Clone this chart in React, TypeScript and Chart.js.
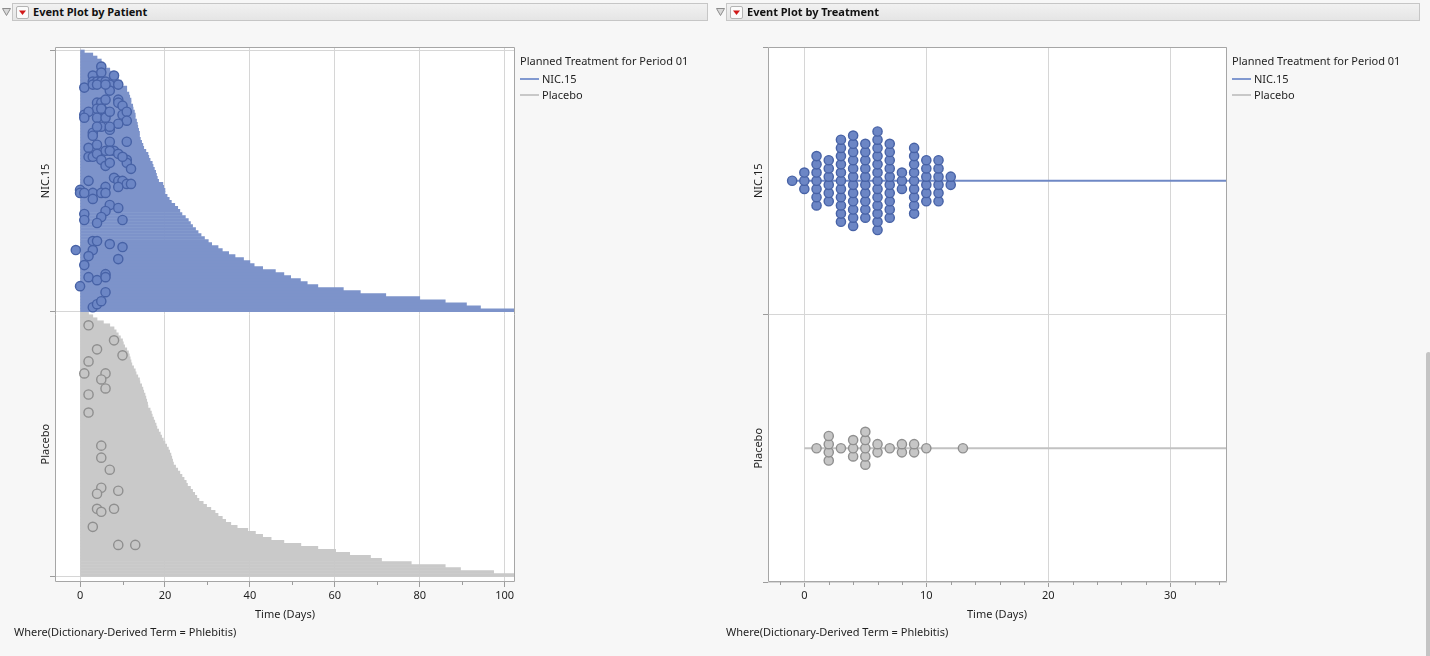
import React, { useEffect, useRef } from 'react';
import { Chart, registerables } from 'chart.js';

Chart.register(...registerables);

const FONT = "'Noto Sans', 'Segoe UI', Arial, sans-serif";
const TEXT = '#1f1f1f';

// ---------------- data ----------------
const treatments = ['NIC.15', 'Placebo'];
const legendTitle = 'Planned Treatment for Period 01';
const xTitle = 'Time (Days)';
const whereNote = 'Where(Dictionary-Derived Term = Phlebitis)';
const panelTitles = ['Event Plot by Patient', 'Event Plot by Treatment'];

// end of follow-up (days) per patient row, top row first
const nicEndDays = [
  1, 3, 4, 5, 5.5, 6, 7, 8, 8.5, 9, 9.7, 10, 11, 11, 11.5, 11.7, 12, 12, 12.4, 12.5,
  12.8, 13, 13, 13.3, 13.5, 13.6, 13.8, 14, 14, 14.2, 14.5, 14.8, 15, 15.5, 16, 16.2, 16.5, 17, 17.2, 17.5,
  17.8, 18, 18.2, 18.5, 19.5, 19.7, 20, 20, 20.5, 21, 21.5, 22.3, 23, 23.5, 24, 24.8, 25.5, 26, 26.5, 27.2,
  27.8, 28.5, 29.3, 30.2, 31, 32.5, 33.5, 35, 36.5, 38.5, 40, 41, 43, 46, 48, 49.6, 51.9, 53.5, 56, 62,
  66, 72, 80, 86, 91, 94.3, 102.5,
];
const placeboEndDays = [
  2, 3, 4, 5.5, 7, 8, 8.5, 9, 9.5, 10, 10.2, 10.5, 11, 11.4, 11.6, 11.8, 12, 12.2, 12.6, 13,
  13.2, 13.6, 14, 14.1, 14.5, 14.8, 15, 15.3, 15.5, 15.7, 15.9, 16, 16.5, 16.8, 17, 17.3, 17.6, 17.9, 18.1, 18.5,
  18.9, 19.2, 19.6, 20, 20.4, 20.8, 21.1, 21.4, 21.6, 21.8, 22, 22.5, 23, 23.5, 24, 24.5, 25, 25.3, 26, 26.5,
  27, 27.5, 28, 29, 29.8, 30.8, 31.8, 32.5, 33.5, 34.3, 35.5, 37, 39.5, 41.3, 43, 45, 48, 52, 56, 60.2,
  63.5, 68.4, 71, 78, 86, 89.6, 97.4, 102.5,
];
// events: [day, patient row]
const nicEvents: [number, number][] = [
  [5, 5], [3, 8], [5, 7], [8, 8], [1, 12], [3, 10], [4, 10], [5, 10], [6, 10], [7, 11],
  [9, 11], [7, 13], [9, 16], [4, 17], [5, 17], [6, 16], [9, 17], [10, 18], [4, 19], [6, 20],
  [1, 21], [2, 20], [4, 22], [6, 22], [10, 21], [11, 20], [11, 23], [9, 24], [5, 25], [7, 26],
  [7, 25], [3, 27], [3, 28], [7, 30], [11, 30], [2, 32], [4, 31], [6, 33], [8, 33], [2, 35],
  [3, 35], [4, 34], [5, 36], [6, 38], [7, 37], [11, 36], [11, 37], [12, 39], [2, 43], [8, 42],
  [9, 43], [10, 43], [11, 44], [12, 44], [9, 45], [6, 45], [0, 46], [0, 47], [3, 47], [5, 47],
  [6, 47], [1, 47], [3, 49], [7, 51], [9, 52], [6, 53], [1, 54], [1, 56], [5, 55], [4, 57],
  [10, 56], [3, 63], [4, 63], [3, 66], [7, 64], [10, 65], [-1, 66], [2, 68], [9, 69], [1, 71],
  [2, 75], [4, 76], [6, 74], [6, 75], [0, 78], [6, 80], [3, 85], [4, 84], [5, 83],
  [1, 22], [3, 11], [4, 11], [4, 25], [5, 19], [6, 11], [7, 20], [7, 33], [9, 34], [10, 35],
];
const placeboEvents: [number, number][] = [
  [2, 4], [8, 9], [4, 12], [10, 14], [2, 16], [1, 20], [6, 20], [5, 22], [6, 25], [2, 27],
  [2, 33], [5, 44], [5, 48], [7, 52], [5, 58], [4, 60], [9, 59], [4, 65], [8, 65], [5, 66],
  [3, 71], [9, 77], [13, 77],
];

const patientXTicks = [0, 20, 40, 60, 80, 100];
const patientXMinorTicks = [10, 30, 50, 70, 90];
const patientXRange = [-5.9, 102.43];
const treatmentXTicks = [0, 10, 20, 30];
const treatmentXMinorTicks = [-2, 2, 4, 6, 8, 12, 14, 16, 18, 22, 24, 26, 28, 32, 34];
const treatmentXRange = [-2.98, 34.65];

// ---------------- styles ----------------
const COLORS = {
  nic: { bar: '#7d93ca', fill: '#6c86c5', border: '#4762a6', line: '#6f88c5', legend: '#8199d0' },
  pbo: { bar: '#c9c9c9', fill: '#c6c6c6', border: '#8f8f8f', line: '#c2c2c2', legend: '#c8c8c8' },
};
const GRID = '#d6d6d6';
const TICK = '#9c9c9c';
const POINT_R = 4.6;
const SWARM_STEP = 0.0307; // vertical spacing of stacked points (y units)

function makeDecor(minor: number[], cats: { value: number; text: string }[]) {
  return {
    id: 'decor',
    beforeDraw(chart: any) {
      const { ctx, chartArea: a } = chart;
      ctx.save();
      ctx.fillStyle = '#ffffff';
      ctx.fillRect(a.left, a.top, a.right - a.left, a.bottom - a.top);
      ctx.restore();
    },
    afterDraw(chart: any) {
      const { ctx, chartArea: a, scales } = chart;
      ctx.save();
      const L = Math.round(a.left) + 0.5;
      const R = Math.round(a.right) - 0.5;
      const T = Math.round(a.top) + 0.5;
      const B = Math.round(a.bottom) - 0.5;
      ctx.strokeStyle = '#a6a6a6';
      ctx.lineWidth = 1;
      ctx.beginPath();
      ctx.rect(L, T, R - L, B - T);
      ctx.stroke();
      ctx.strokeStyle = TICK;
      ctx.beginPath();
      minor.forEach((v) => {
        const x = Math.round(scales.x.getPixelForValue(v)) + 0.5;
        ctx.moveTo(x, B);
        ctx.lineTo(x, B + 3.5);
      });
      ctx.stroke();
      ctx.fillStyle = TEXT;
      ctx.font = `11px ${FONT}`;
      ctx.textAlign = 'center';
      ctx.textBaseline = 'middle';
      cats.forEach((c) => {
        const y = scales.y.getPixelForValue(c.value);
        ctx.save();
        ctx.translate(a.left - 9, y);
        ctx.rotate(-Math.PI / 2);
        ctx.fillText(c.text, 0, 0);
        ctx.restore();
      });
      ctx.restore();
    },
  };
}

function xScale(range: number[], ticks: number[]) {
  return {
    type: 'linear',
    min: range[0],
    max: range[1],
    offset: false,
    afterBuildTicks: (s: any) => {
      s.ticks = ticks.map((v) => ({ value: v }));
    },
    afterFit: (s: any) => {
      s.height = 30;
    },
    grid: { color: GRID, lineWidth: 1, tickLength: 5, tickColor: TICK, offset: false },
    border: { display: false },
    ticks: { color: TEXT, font: { family: FONT, size: 11 }, padding: 2, maxRotation: 0, autoSkip: false },
  };
}

function yScale(min: number, max: number, ticks: number[]) {
  return {
    type: 'linear',
    min,
    max,
    offset: false,
    afterBuildTicks: (s: any) => {
      s.ticks = ticks.map((v) => ({ value: v }));
    },
    afterFit: (s: any) => {
      s.width = 10;
    },
    grid: { color: GRID, lineWidth: 1, tickLength: 5, tickColor: TICK, offset: false },
    border: { display: false },
    ticks: { display: false },
  };
}

const pointStyle = (c: { fill: string; border: string }) => ({
  pointRadius: POINT_R,
  pointBackgroundColor: c.fill,
  pointBorderColor: c.border,
  pointBorderWidth: 1.4,
  backgroundColor: c.fill,
  borderColor: c.border,
});

function PatientChart() {
  const ref = useRef<HTMLCanvasElement>(null);
  useEffect(() => {
    const nN = nicEndDays.length;
    const nP = placeboEndDays.length;
    const total = nN + nP;
    const nicY = (r: number) => total - r - 0.5;
    const pboY = (r: number) => nP - r - 0.5;
    const chart = new Chart(ref.current as HTMLCanvasElement, {
      type: 'scatter',
      data: {
        datasets: [
          {
            type: 'scatter',
            data: nicEvents.map(([d, r]) => ({ x: d, y: nicY(r) })),
            ...pointStyle(COLORS.nic),
            order: 0,
          },
          {
            type: 'scatter',
            data: placeboEvents.map(([d, r]) => ({ x: d, y: pboY(r) })),
            ...pointStyle(COLORS.pbo),
            order: 0,
          },
          {
            type: 'bar',
            indexAxis: 'y',
            data: nicEndDays.map((e, i) => ({ x: [0, e], y: nicY(i) })),
            backgroundColor: COLORS.nic.bar,
            borderWidth: 0,
            barPercentage: 1,
            categoryPercentage: 1,
            grouped: false,
            order: 2,
          },
          {
            type: 'bar',
            indexAxis: 'y',
            data: placeboEndDays.map((e, i) => ({ x: [0, e], y: pboY(i) })),
            backgroundColor: COLORS.pbo.bar,
            borderWidth: 0,
            barPercentage: 1,
            categoryPercentage: 1,
            grouped: false,
            order: 2,
          },
        ] as any,
      },
      options: {
        animation: false,
        responsive: false,
        events: [],
        layout: { padding: { left: 45, top: 47, right: 195, bottom: 44 } },
        plugins: { legend: { display: false }, tooltip: { enabled: false } },
        scales: {
          x: xScale(patientXRange, patientXTicks),
          y: yScale(-5.5 / 3.00857, total + 3 / 3.00857, [0, nP, total]),
        } as any,
      },
      plugins: [
        makeDecor(patientXMinorTicks, [
          { value: nP + nN / 2, text: treatments[0] },
          { value: nP / 2, text: treatments[1] },
        ]) as any,
      ],
    });
    return () => chart.destroy();
  }, []);
  return (
    <canvas
      ref={ref}
      width={710}
      height={656}
      style={{ position: 'absolute', left: 0, top: 0, width: 710, height: 656 }}
    />
  );
}

function swarm(days: number[], center: number) {
  const counts = new Map<number, number>();
  days.forEach((d) => counts.set(d, (counts.get(d) || 0) + 1));
  const pts: { x: number; y: number }[] = [];
  Array.from(counts.keys())
    .sort((a, b) => a - b)
    .forEach((d) => {
      const n = counts.get(d) as number;
      for (let k = 0; k < n; k++) pts.push({ x: d, y: center + (k - (n - 1) / 2) * SWARM_STEP });
    });
  return pts;
}

function TreatmentChart() {
  const ref = useRef<HTMLCanvasElement>(null);
  useEffect(() => {
    const nicDays = nicEvents.map((e) => e[0]);
    const pboDays = placeboEvents.map((e) => e[0]);
    const nicStart = Math.min(0, ...nicDays);
    const pboStart = Math.min(0, ...pboDays);
    const nicEnd = Math.max(...nicEndDays);
    const pboEnd = Math.max(...placeboEndDays);
    const chart = new Chart(ref.current as HTMLCanvasElement, {
      type: 'scatter',
      data: {
        datasets: [
          { type: 'scatter', data: swarm(nicDays, 1.5), ...pointStyle(COLORS.nic), order: 0 },
          { type: 'scatter', data: swarm(pboDays, 0.5), ...pointStyle(COLORS.pbo), order: 0 },
          {
            type: 'line',
            data: [
              { x: nicStart, y: 1.5 },
              { x: nicEnd, y: 1.5 },
            ],
            borderColor: COLORS.nic.line,
            borderWidth: 2,
            pointRadius: 0,
            order: 1,
          },
          {
            type: 'line',
            data: [
              { x: pboStart, y: 0.5 },
              { x: pboEnd, y: 0.5 },
            ],
            borderColor: COLORS.pbo.line,
            borderWidth: 2,
            pointRadius: 0,
            order: 1,
          },
        ] as any,
      },
      options: {
        animation: false,
        responsive: false,
        events: [],
        layout: { padding: { left: 48, top: 47, right: 203, bottom: 44 } },
        plugins: { legend: { display: false }, tooltip: { enabled: false } },
        scales: {
          x: xScale(treatmentXRange, treatmentXTicks),
          y: yScale(0, 2, [0, 1, 2]),
        } as any,
      },
      plugins: [
        makeDecor(treatmentXMinorTicks, [
          { value: 1.5, text: treatments[0] },
          { value: 0.5, text: treatments[1] },
        ]) as any,
      ],
    });
    return () => chart.destroy();
  }, []);
  return (
    <canvas
      ref={ref}
      width={720}
      height={656}
      style={{ position: 'absolute', left: 710, top: 0, width: 720, height: 656 }}
    />
  );
}

function Header({ x, w, title }: { x: number; w: number; title: string }) {
  return (
    <>
      <svg style={{ position: 'absolute', left: x - 10, top: 8 }} width={9} height={8}>
        <polygon points="0.5,0.5 8.5,0.5 4.5,7.5" fill="#d8d8d8" stroke="#8c8c8c" strokeWidth={1} />
      </svg>
      <div
        style={{
          position: 'absolute',
          left: x,
          top: 3,
          width: w,
          height: 18,
          boxSizing: 'border-box',
          border: '1px solid #c6c6c6',
          background: 'linear-gradient(#f1f1f1, #e5e5e5)',
        }}
      >
        <svg style={{ position: 'absolute', left: 3, top: 2 }} width={13} height={13}>
          <rect x={0.5} y={0.5} width={12} height={12} rx={1.5} fill="#fbfbfb" stroke="#b4b4b4" />
          <polygon points="3,4.5 10,4.5 6.5,9" fill="#d11a1a" />
        </svg>
        <span
          style={{
            position: 'absolute',
            left: 20,
            top: 0,
            lineHeight: '16px',
            fontWeight: 700,
            fontSize: 11,
            color: '#111',
            whiteSpace: 'nowrap',
          }}
        >
          {title}
        </span>
      </div>
    </>
  );
}

function Legend({ x }: { x: number }) {
  const items = [
    { text: treatments[0], color: COLORS.nic.legend },
    { text: treatments[1], color: COLORS.pbo.legend },
  ];
  return (
    <div style={{ position: 'absolute', left: x, top: 53, fontSize: 11, lineHeight: '16px', color: TEXT, whiteSpace: 'nowrap' }}>
      <div>{legendTitle}</div>
      <div style={{ marginTop: 2 }}>
        {items.map((it) => (
          <div key={it.text} style={{ display: 'flex', alignItems: 'center', height: 16 }}>
            <span style={{ display: 'inline-block', width: 19, height: 2, background: it.color, marginRight: 3 }} />
            <span>{it.text}</span>
          </div>
        ))}
      </div>
    </div>
  );
}

export default function App() {
  const label = (x: number, y: number, text: string, center = false) => (
    <div
      style={{
        position: 'absolute',
        left: x,
        top: y - 8,
        lineHeight: '16px',
        fontSize: 11,
        color: TEXT,
        whiteSpace: 'nowrap',
        transform: center ? 'translateX(-50%)' : undefined,
      }}
    >
      {text}
    </div>
  );
  return (
    <div
      style={{
        position: 'fixed',
        left: 0,
        top: 0,
        width: 1430,
        height: 656,
        overflow: 'hidden',
        background: '#f7f7f7',
        fontFamily: FONT,
      }}
    >
      <PatientChart />
      <TreatmentChart />
      <Header x={12} w={696} title={panelTitles[0]} />
      <Header x={726} w={694} title={panelTitles[1]} />
      <Legend x={520} />
      <Legend x={1232} />
      {label(285, 614, xTitle, true)}
      {label(997, 614, xTitle, true)}
      {label(14, 632, whereNote)}
      {label(726, 632, whereNote)}
      <div
        style={{
          position: 'absolute',
          left: 1426,
          top: 352,
          width: 5,
          height: 320,
          borderRadius: 3,
          background: '#c4c4c4',
        }}
      />
    </div>
  );
}
